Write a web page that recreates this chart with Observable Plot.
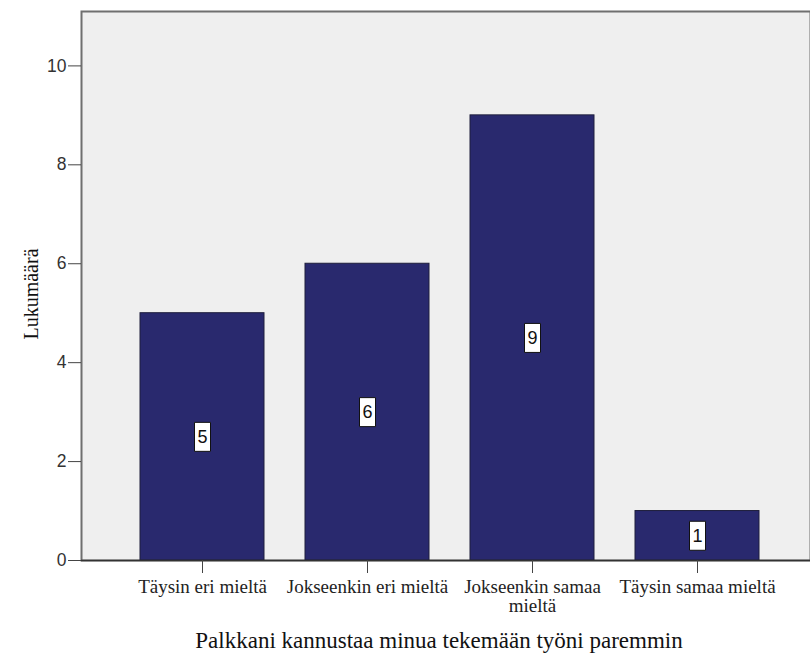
<!DOCTYPE html>
<html>
<head>
<meta charset="utf-8">
<script src="https://cdn.jsdelivr.net/npm/d3@7"></script>
<script src="https://cdn.jsdelivr.net/npm/@observablehq/plot@0.6"></script>
<style>
  html, body { margin: 0; padding: 0; background: #fff; }
  #chart svg { display: block; }
</style>
</head>
<body>
<div id="chart"></div>
<script>
// Answer categories and their counts
const categories = ["Täysin eri mieltä", "Jokseenkin eri mieltä", "Jokseenkin samaa mieltä", "Täysin samaa mieltä"];
const counts = [5, 6, 9, 1];
// Axis tick labels (the long one wraps onto two lines)
const categoryTickLabels = ["Täysin eri mieltä", "Jokseenkin eri mieltä", "Jokseenkin samaa\nmieltä", "Täysin samaa mieltä"];
const yTicks = [0, 2, 4, 6, 8, 10];
const xTitle = "Palkkani kannustaa minua tekemään työni paremmin";
const yTitle = "Lukumäärä";

const rows = categories.map((c, i) => ({category: c, count: counts[i]}));
const tickLabelOf = new Map(categories.map((c, i) => [c, categoryTickLabels[i]]));

const serif = "'Liberation Serif', 'Times New Roman', serif";
const sans = "'Liberation Sans', Arial, sans-serif";

// Small white box drawn behind each count label
const labelBox = {
  draw(context) {
    context.rect(-8, -14.5, 16, 29);
  }
};

const chart = Plot.plot({
  width: 810,
  height: 657,
  marginLeft: 81,
  marginRight: 0,
  marginTop: 11,
  marginBottom: 97,
  style: {background: "#fff", color: "#222"},
  x: {domain: categories, paddingInner: 0.247, paddingOuter: 0.32, align: 0.54},
  y: {domain: [0, 11.1]},
  marks: [
    Plot.frame({fill: "#efefef"}),
    Plot.frame({stroke: "#6f6f6f", strokeWidth: 2}),
    Plot.barY(rows, {x: "category", y: "count", fill: "#29296e", stroke: "#1e1e3c", strokeWidth: 1}),
    Plot.ruleY([0], {stroke: "#333", strokeWidth: 1.5}),
    Plot.axisY({
      ticks: yTicks, tickSize: 13, tickPadding: 2, stroke: "#444",
      fontFamily: sans, fontSize: 17.5, fill: "#333", label: null
    }),
    Plot.axisX({
      tickSize: 13, tickPadding: 6, stroke: "#444",
      tickFormat: d => tickLabelOf.get(d),
      fontFamily: serif, fontSize: 19, fill: "#222", label: null
    }),
    // Axis titles
    Plot.text([xTitle], {frameAnchor: "bottom", dx: -7, dy: 87, text: d => d,
      fontFamily: serif, fontSize: 23, fill: "#111"}),
    Plot.text([yTitle], {frameAnchor: "left", textAnchor: "middle", dx: -50, dy: 8, rotate: -90, text: d => d,
      fontFamily: serif, fontSize: 20, fill: "#111"}),
    // Count labels in the middle of each bar
    Plot.dot(rows, {x: "category", y: d => d.count / 2, symbol: labelBox, fill: "#fff", stroke: "#111", strokeWidth: 1}),
    Plot.text(rows, {x: "category", y: d => d.count / 2, text: d => String(d.count), fill: "#111",
      fontFamily: sans, fontSize: 18})
  ]
});

document.getElementById("chart").append(chart);
</script>
</body>
</html>
